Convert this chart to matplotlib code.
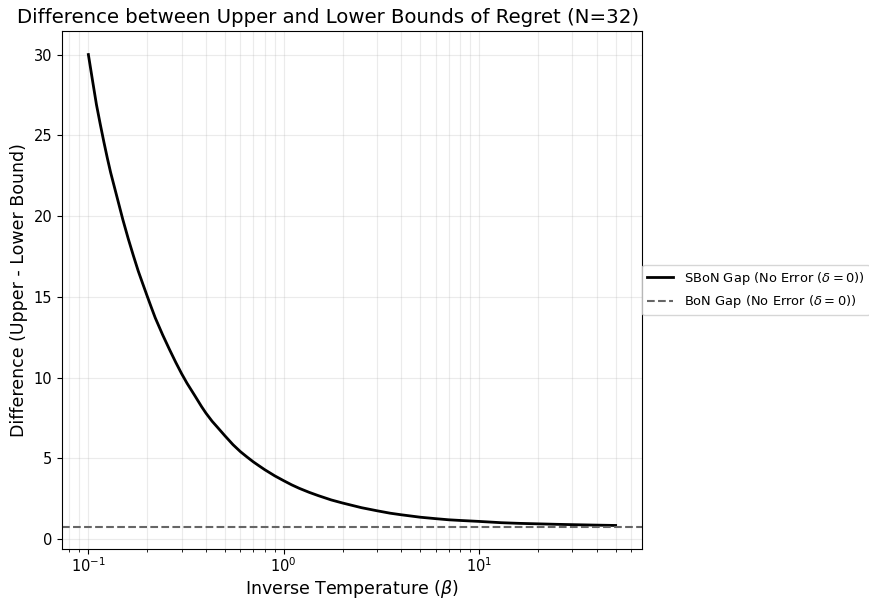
import numpy as np
import matplotlib.pyplot as plt

# values
beta = [0.1, 0.105, 0.11, 0.115, 0.12, 0.125, 0.13, 0.14, 0.15, 0.16, 0.17,
        0.18, 0.19, 0.2, 0.21, 0.22, 0.24, 0.26, 0.28, 0.3, 0.32, 0.35, 0.38,
        0.4, 0.43, 0.46, 0.5, 0.55, 0.6, 0.65, 0.7, 0.75, 0.8, 0.9, 1.0, 1.1,
        1.2, 1.35, 1.5, 1.75, 2.0, 2.5, 3.0, 3.5, 4.0, 5.0, 6.0, 7.0, 8.0,
        10.0, 13.0, 16.0, 20.0, 25.0, 30.0, 40.0, 50.0]
sbon_gap = [30.0, 28.4, 26.9, 25.7, 24.6, 23.6, 22.7, 21.2, 19.8, 18.6, 17.55,
            16.6, 15.8, 15.05, 14.35, 13.7, 12.65, 11.75, 10.95, 10.25, 9.65, 8.9, 8.2,
            7.8, 7.3, 6.9, 6.4, 5.85, 5.42, 5.08, 4.78, 4.53, 4.3, 3.92, 3.62, 3.36,
            3.15, 2.9, 2.7, 2.43, 2.24, 1.95, 1.76, 1.61, 1.51, 1.36, 1.27, 1.2, 1.16,
            1.1, 1.02, 0.98, 0.95, 0.92, 0.9, 0.87, 0.85]
bon_gap = 0.77

fig, ax = plt.subplots(figsize=(8.69, 6.03), dpi=100)
fig.subplots_adjust(left=62/869, right=642/869, top=1-31/603, bottom=1-549/603)

ax.plot(beta, sbon_gap, color='black', linewidth=2,
        label=r'SBoN Gap (No Error ($\delta=0$))')
ax.axhline(y=bon_gap, color='#666666', linestyle='--', linewidth=1.5,
           label=r'BoN Gap (No Error ($\delta=0$))')

ax.set_xscale('log')
ax.tick_params(axis='both', labelsize=10.5)
ax.tick_params(axis='x', pad=2)
ax.set_xlabel(r'Inverse Temperature ($\beta$)', fontsize=12.5, labelpad=2)
ax.set_ylabel('Difference (Upper - Lower Bound)', fontsize=12.5)
ax.set_title('Difference between Upper and Lower Bounds of Regret (N=32)',
             fontsize=14.2, x=0.459)
ax.grid(True, which='both', alpha=0.25)
ax.legend(loc='center left', bbox_to_anchor=(1.0, 0.5), fontsize=9.4,
          borderaxespad=0)

plt.savefig('out.png', dpi=100)
